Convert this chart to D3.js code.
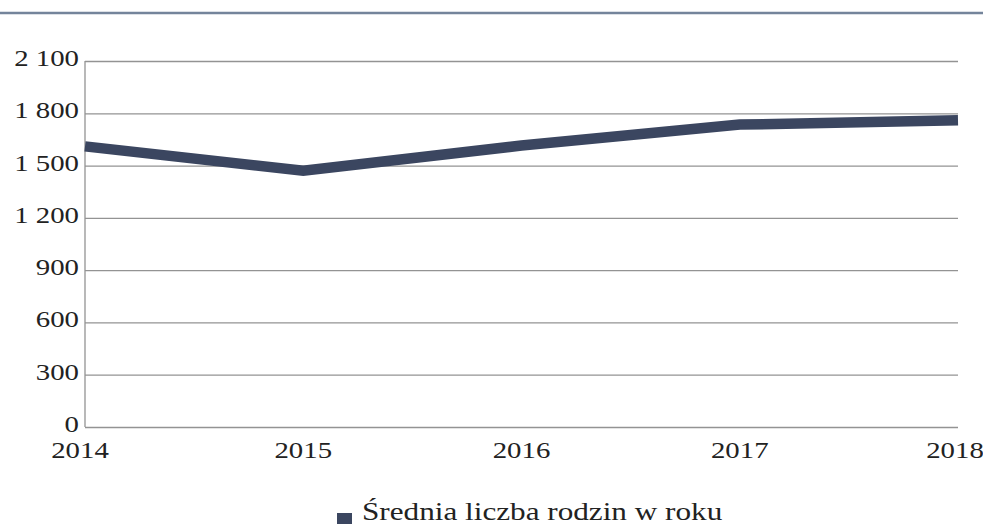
<!DOCTYPE html>
<html>
<head>
<meta charset="utf-8">
<script src="https://cdn.jsdelivr.net/npm/d3@7"></script>
<style>
  body { margin: 0; background: #fff; }
  text { font-family: "Liberation Serif", "DejaVu Serif", serif; fill: #222; }
</style>
</head>
<body>
<div id="chart"></div>
<script>
// data
const years = ["2014", "2015", "2016", "2017", "2018"];
const values = [1610, 1470, 1615, 1735, 1760];
const yTicks = [0, 300, 600, 900, 1200, 1500, 1800, 2100];
const seriesName = "Średnia liczba rodzin w roku";

const W = 983, H = 526;
const lineColor = "#3b4660";
const gridColor = "#939393";
const sx = 1.2; // the print is a bit stretched sideways

const svg = d3.select("#chart")
    .append("svg")
    .attr("width", W)
    .attr("height", H);

// rule along the top
svg.append("line")
    .attr("x1", 0).attr("x2", W)
    .attr("y1", 13).attr("y2", 13)
    .attr("stroke", "#74849b")
    .attr("stroke-width", 2.5);

const x = d3.scalePoint()
    .domain(years)
    .range([85, 958]);

const y = d3.scaleLinear()
    .domain([0, 2100])
    .range([427, 61]);

const fmt = v => d3.format(",")(v).replace(",", " ");

// horizontal grid
const yAxis = svg.append("g")
    .attr("transform", "translate(85,0)")
    .call(d3.axisRight(y).tickValues(yTicks).tickSize(958 - 85).tickFormat(""));
yAxis.select(".domain").remove();
yAxis.selectAll(".tick line")
    .attr("stroke", gridColor)
    .attr("stroke-width", 1.3);

// y labels
svg.append("g")
    .selectAll("text")
    .data(yTicks)
    .join("text")
    .attr("text-anchor", "end")
    .attr("font-size", 24)
    .attr("transform", d => `translate(79,${y(d) + 5}) scale(${sx},1)`)
    .text(fmt);

// vertical axis line
svg.append("line")
    .attr("x1", 85).attr("x2", 85)
    .attr("y1", y(2100)).attr("y2", y(0))
    .attr("stroke", gridColor)
    .attr("stroke-width", 1.3);

// x labels
svg.append("g")
    .selectAll("text")
    .data(years)
    .join("text")
    .attr("text-anchor", "middle")
    .attr("font-size", 24)
    .attr("transform", (d, i) => `translate(${x(d) + (i === 0 ? -5 : i === years.length - 1 ? -3 : 0)},458) scale(${sx},1)`)
    .text(d => d);

// the series line
const line = d3.line()
    .x((d, i) => x(years[i]))
    .y(d => y(d));

svg.append("path")
    .datum(values)
    .attr("fill", "none")
    .attr("stroke", lineColor)
    .attr("stroke-width", 10.5)
    .attr("stroke-linejoin", "miter")
    .attr("d", line);

// legend
svg.append("rect")
    .attr("x", 337)
    .attr("y", 513)
    .attr("width", 15)
    .attr("height", 11)
    .attr("fill", lineColor);
svg.append("text")
    .attr("font-size", 26)
    .attr("transform", `translate(362,520) scale(${sx},1)`)
    .text(seriesName);
</script>
</body>
</html>
